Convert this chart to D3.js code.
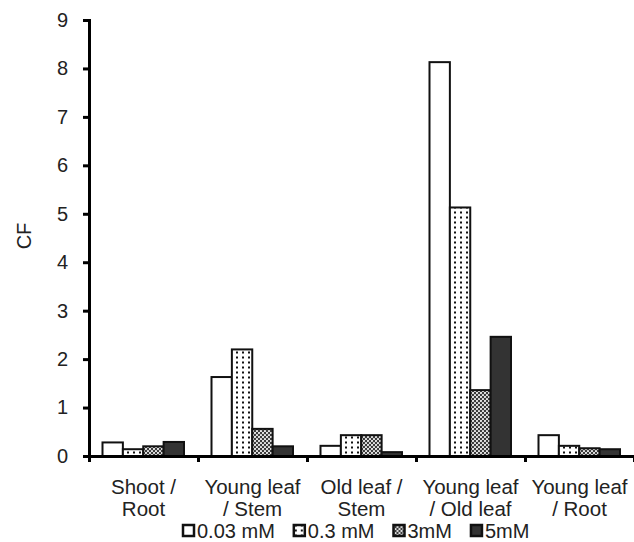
<!DOCTYPE html>
<html>
<head>
<meta charset="utf-8">
<script src="https://cdn.jsdelivr.net/npm/d3@7/dist/d3.min.js"></script>
<style>
  html, body { margin: 0; padding: 0; background: #fff; }
  svg { display: block; }
  text { font-family: "Liberation Sans", Arial, sans-serif; fill: #222; }
</style>
</head>
<body>
<svg id="chart" width="634" height="542"></svg>
<script>
// Concentration factor (CF) ratios between plant organs
const categories = [
  ["Shoot /", "Root"],
  ["Young leaf", "/ Stem"],
  ["Old leaf /", "Stem"],
  ["Young leaf", "/ Old leaf"],
  ["Young leaf", "/ Root"]
];
const seriesNames = ["0.03 mM", "0.3 mM", "3mM", "5mM"];
const cf003 = [0.28, 1.63, 0.21, 8.13, 0.43];
const cf03  = [0.14, 2.20, 0.43, 5.13, 0.21];
const cf3   = [0.20, 0.56, 0.43, 1.36, 0.16];
const cf5   = [0.29, 0.20, 0.08, 2.46, 0.14];
const yTicks = [0, 1, 2, 3, 4, 5, 6, 7, 8, 9];

const seriesValues = [cf003, cf03, cf3, cf5];

const svg = d3.select("#chart");
const plotLeft = 89, plotRight = 634, plotTop = 20, plotBottom = 456;

// Fill patterns for each series
const defs = svg.append("defs");
const pDots = defs.append("pattern").attr("id", "p-dots")
  .attr("patternUnits", "userSpaceOnUse").attr("width", 6).attr("height", 5);
pDots.append("rect").attr("width", 6).attr("height", 5).attr("fill", "#fff");
pDots.append("rect").attr("x", 2).attr("y", 1.5).attr("width", 2).attr("height", 2).attr("fill", "#111");

const pHatch = defs.append("pattern").attr("id", "p-hatch")
  .attr("patternUnits", "userSpaceOnUse").attr("width", 4).attr("height", 4);
pHatch.append("rect").attr("width", 4).attr("height", 4).attr("fill", "#3a3a3a");
pHatch.append("circle").attr("cx", 1).attr("cy", 1).attr("r", 1.1).attr("fill", "#eee");
pHatch.append("circle").attr("cx", 3).attr("cy", 3).attr("r", 1.1).attr("fill", "#eee");

const fills = ["#fff", "url(#p-dots)", "url(#p-hatch)", "#333"];

const x = d3.scaleBand().domain(d3.range(categories.length)).range([plotLeft, plotRight]).padding(0);
const xBound = d3.scaleLinear().domain([0, categories.length]).range([plotLeft, plotRight]);
const xInner = d3.scaleBand().domain(d3.range(seriesNames.length))
  .range([13.5, x.bandwidth() - 14]).padding(0);
const y = d3.scaleLinear().domain([0, 9]).range([plotBottom, plotTop]);

// Bars
const groups = svg.append("g").selectAll("g")
  .data(categories.map((c, i) => i))
  .join("g")
  .attr("transform", i => `translate(${x(i)},0)`);

groups.selectAll("rect")
  .data(i => seriesValues.map((vals, s) => ({ s, v: vals[i] })))
  .join("rect")
  .attr("x", d => xInner(d.s))
  .attr("width", xInner.bandwidth())
  .attr("y", d => y(d.v))
  .attr("height", d => y(0) - y(d.v))
  .attr("fill", d => fills[d.s])
  .attr("stroke", "#111")
  .attr("stroke-width", 2);

// Y axis
const yAxis = svg.append("g")
  .attr("transform", `translate(${plotLeft},0)`)
  .call(d3.axisLeft(y).tickValues(yTicks).tickFormat(d3.format("d"))
    .tickSizeInner(6).tickSizeOuter(6).tickPadding(15));
yAxis.select(".domain").attr("stroke", "#000").attr("stroke-width", 3);
yAxis.selectAll(".tick line").attr("stroke", "#000").attr("stroke-width", 3);
yAxis.selectAll(".tick text").style("font-size", "20px")
  .style("font-family", "'Liberation Sans', Arial, sans-serif").attr("fill", "#222");

// X axis: ticks at category boundaries
const xAxis = svg.append("g")
  .attr("transform", `translate(0,${plotBottom})`)
  .call(d3.axisBottom(xBound).tickValues(d3.range(categories.length + 1))
    .tickFormat("").tickSizeInner(6).tickSizeOuter(0));
xAxis.select(".domain").attr("stroke", "#000").attr("stroke-width", 3);
xAxis.selectAll(".tick line").attr("stroke", "#000").attr("stroke-width", 3);

// Category labels (two lines each)
const catLabels = svg.append("g").selectAll("text")
  .data(categories)
  .join("text")
  .attr("text-anchor", "middle")
  .style("font-size", "20.5px");
catLabels.each(function(lines, i) {
  const t = d3.select(this);
  lines.forEach((ln, k) => {
    t.append("tspan")
      .attr("x", x(i) + x.bandwidth() / 2)
      .attr("y", 494 + k * 22)
      .text(ln);
  });
});

// Y axis title
svg.append("text")
  .attr("transform", "translate(31,236) rotate(-90)")
  .attr("text-anchor", "middle")
  .style("font-size", "20px")
  .text("CF");

// Legend
const legend = svg.append("g").attr("transform", "translate(182,538)");
let lx = 0;
seriesNames.forEach((name, s) => {
  const g = legend.append("g").attr("transform", `translate(${lx},0)`);
  g.append("rect").attr("x", 1).attr("y", -13).attr("width", 11).attr("height", 11)
    .attr("fill", fills[s]).attr("stroke", "#111").attr("stroke-width", 2.5);
  const t = g.append("text").attr("x", 15).attr("y", 0).style("font-size", "20px").text(name);
  lx += 15 + t.node().getComputedTextLength() + 18;
});
</script>
</body>
</html>
